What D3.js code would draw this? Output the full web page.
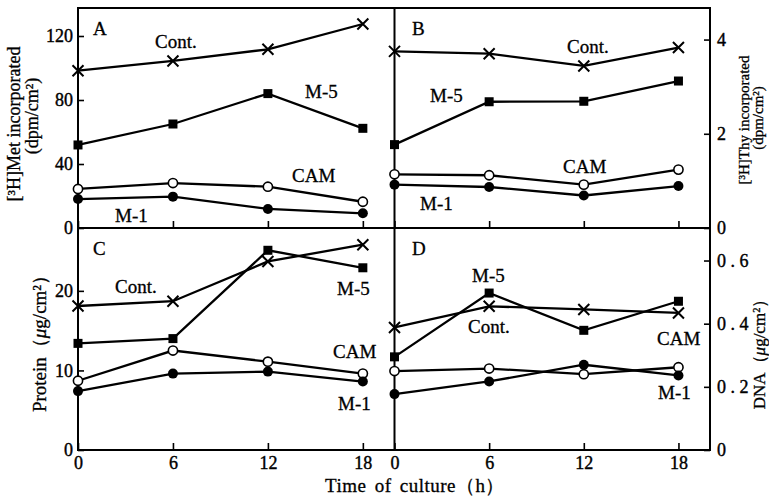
<!DOCTYPE html>
<html>
<head>
<meta charset="utf-8">
<script src="https://cdn.jsdelivr.net/npm/d3@7"></script>
<style>
  body { margin: 0; background: #fff; }
  svg { font-family: "Liberation Serif", "DejaVu Serif", serif; }
</style>
</head>
<body>
<svg width="769" height="499"></svg>
<script>
// time points (h)
const times = [0, 6, 12, 18];
const timeTicks = [0, 6, 12, 18];

// A: [3H]Met incorporated (dpm/cm2)
const metCont = [98.3, 104.4, 111.7, 127.5];
const metM5   = [51.9, 65.0, 84.0, 62.3];
const metCAM  = [24.4, 28.1, 25.8, 16.4];
const metM1   = [18.1, 19.6, 11.9, 9.2];
const metTicks = [0, 40, 80, 120];

// B: [3H]Thy incorporated
const thyCont = [3.75, 3.70, 3.44, 3.83];
const thyM5   = [1.77, 2.68, 2.69, 3.12];
const thyCAM  = [1.14, 1.12, 0.92, 1.24];
const thyM1   = [0.92, 0.87, 0.69, 0.89];
const thyTicks = [0, 2, 4];

// C: protein (ug/cm2)
const protCont = [18.1, 18.7, 23.7, 25.8];
const protM5   = [13.4, 14.0, 25.1, 22.9];
const protCAM  = [8.7, 12.5, 11.1, 9.6];
const protM1   = [7.4, 9.6, 9.85, 8.6];
const protTicks = [0, 10, 20];

// D: DNA (ug/cm2)
const dnaCont = [0.388, 0.455, 0.445, 0.434];
const dnaM5   = [0.295, 0.497, 0.379, 0.471];
const dnaCAM  = [0.250, 0.258, 0.240, 0.262];
const dnaM1   = [0.177, 0.217, 0.270, 0.236];
const dnaTicks = [0, 0.2, 0.4, 0.6];

const svg = d3.select("svg");

const pLeft = 78, pMid = 394.5, pRight = 710,
      pTop = 8, pMidY = 228, pBottom = 450;

const xL = d3.scaleLinear().domain([0, 20]).range([pLeft, pMid]);
const xR = d3.scaleLinear().domain([0, 20]).range([pMid, pRight]);
const yMet = d3.scaleLinear().domain([0, 137.5]).range([pMidY, pTop]);
const yThy = d3.scaleLinear().domain([0, 4.67]).range([pMidY, pTop]);
const yProt = d3.scaleLinear().domain([0, 27.9]).range([pBottom, pMidY]);
const yDna = d3.scaleLinear().domain([0, 0.703]).range([pBottom, pMidY]);

const markers = ["cross", "square", "open", "dot"];

const panels = [
  {x: xL, y: yMet, series: [metCont, metM5, metCAM, metM1], letter: "A",
   labels: [["Cont.", 155, 48], ["M-5", 305, 98], ["CAM", 292, 182], ["M-1", 115, 222]]},
  {x: xR, y: yThy, series: [thyCont, thyM5, thyCAM, thyM1], letter: "B",
   labels: [["Cont.", 567, 53], ["M-5", 430, 102], ["CAM", 563, 173], ["M-1", 420, 210]]},
  {x: xL, y: yProt, series: [protCont, protM5, protCAM, protM1], letter: "C",
   labels: [["Cont.", 115, 293], ["M-5", 337, 295], ["CAM", 333, 358], ["M-1", 338, 410]]},
  {x: xR, y: yDna, series: [dnaCont, dnaM5, dnaCAM, dnaM1], letter: "D",
   labels: [["M-5", 472, 282], ["Cont.", 468, 333], ["CAM", 657, 345], ["M-1", 658, 399]]}
];

// axes
function styleAxis(g) {
  g.select(".domain").remove();
  g.selectAll(".tick line").attr("stroke", "#000").attr("stroke-width", 1.6);
  g.selectAll(".tick text").attr("fill", "#000").attr("font-size", 18)
    .attr("font-family", "Liberation Serif")
    .attr("stroke", "#000").attr("stroke-width", 0.4);
}

svg.append("g").attr("transform", `translate(${pLeft},0)`)
  .call(d3.axisLeft(yMet).tickValues(metTicks).tickSize(-6).tickPadding(5))
  .call(styleAxis);
svg.append("g").attr("transform", `translate(${pLeft},0)`)
  .call(d3.axisLeft(yProt).tickValues(protTicks).tickSize(-6).tickPadding(5))
  .call(styleAxis);
svg.append("g").attr("transform", `translate(${pRight},0)`)
  .call(d3.axisRight(yThy).tickValues(thyTicks).tickSize(-6).tickPadding(7)
    .tickFormat(d3.format("d")))
  .call(styleAxis);
svg.append("g").attr("transform", `translate(${pRight},0)`)
  .call(d3.axisRight(yDna).tickValues(dnaTicks).tickSize(-6).tickPadding(7)
    .tickFormat(d => d === 0 ? "0" : d3.format(".1f")(d).replace("0.", "0 . ")))
  .call(styleAxis);

[[xL, pMidY, false], [xR, pMidY, false], [xL, pBottom, true], [xR, pBottom, true]].forEach(([x, yPos, showLabels]) => {
  const g = svg.append("g").attr("transform", `translate(0,${yPos})`)
    .call(d3.axisBottom(x).tickValues(timeTicks).tickSize(-7).tickPadding(6))
    .call(styleAxis);
  if (!showLabels) g.selectAll(".tick text").remove();
});

// frame
const frame = svg.append("g").attr("stroke", "#000").attr("stroke-width", 2).attr("fill", "none");
frame.append("rect").attr("x", pLeft).attr("y", pTop).attr("width", pRight - pLeft).attr("height", pBottom - pTop);
frame.append("line").attr("x1", pMid).attr("x2", pMid).attr("y1", pTop).attr("y2", pBottom);
frame.append("line").attr("x1", pLeft).attr("x2", pRight).attr("y1", pMidY).attr("y2", pMidY);

// series
panels.forEach(p => {
  const line = d3.line().x((d, i) => p.x(times[i])).y(d => p.y(d));
  p.series.forEach((vals, si) => {
    svg.append("path").datum(vals)
      .attr("d", line)
      .attr("fill", "none").attr("stroke", "#000").attr("stroke-width", 2.3);
    const m = markers[si];
    const pts = svg.append("g").selectAll("g").data(vals).join("g")
      .attr("transform", (d, i) => `translate(${p.x(times[i])},${p.y(d)})`);
    if (m === "cross") {
      pts.append("path").attr("d", "M-5.5,-5.5L5.5,5.5M-5.5,5.5L5.5,-5.5")
        .attr("stroke", "#000").attr("stroke-width", 2);
    } else if (m === "square") {
      pts.append("rect").attr("x", -4.5).attr("y", -4.5).attr("width", 9).attr("height", 9).attr("fill", "#000");
    } else if (m === "open") {
      pts.append("circle").attr("r", 4.6).attr("fill", "#fff").attr("stroke", "#000").attr("stroke-width", 1.6);
    } else {
      pts.append("circle").attr("r", 5).attr("fill", "#000");
    }
  });
  const lx = p.letter === "A" || p.letter === "C" ? 93 : 412;
  const ly = p.letter === "A" || p.letter === "B" ? 35 : 255;
  svg.append("text").attr("x", lx).attr("y", ly).attr("font-size", 19)
    .attr("stroke", "#000").attr("stroke-width", 0.3).text(p.letter);
  p.labels.forEach(([t, x, y]) => {
    svg.append("text").attr("x", x).attr("y", y).attr("font-size", 19)
      .attr("stroke", "#000").attr("stroke-width", 0.3).text(t);
  });
});

// axis titles
function vlabel(x, y, size, parts) {
  const t = svg.append("text").attr("transform", `translate(${x},${y}) rotate(-90)`)
    .attr("text-anchor", "middle").attr("dominant-baseline", "central")
    .attr("font-size", size).attr("stroke", "#000").attr("stroke-width", 0.3);
  parts.forEach(([s, italic]) => t.append("tspan").attr("font-style", italic ? "italic" : null).text(s));
}
vlabel(14, 124, 18, [["[³H]Met incorporated"]]);
vlabel(32, 116, 18, [["(dpm/cm²)"]]);
vlabel(744, 120, 15, [["[³H]Thy incorporated"]]);
vlabel(758, 118, 15, [["(dpm/cm²)"]]);
vlabel(39, 339, 19, [["Protein（"], ["μ", true], ["g/cm²）"]]);
vlabel(759, 350, 17, [["DNA（"], ["μ", true], ["g/cm²）"]]);

svg.append("text").attr("x", 415).attr("y", 492).attr("text-anchor", "middle")
  .attr("font-size", 19).attr("word-spacing", 3).attr("letter-spacing", 0.5)
  .attr("stroke", "#000").attr("stroke-width", 0.3)
  .text("Time of culture（h）");
</script>
</body>
</html>
